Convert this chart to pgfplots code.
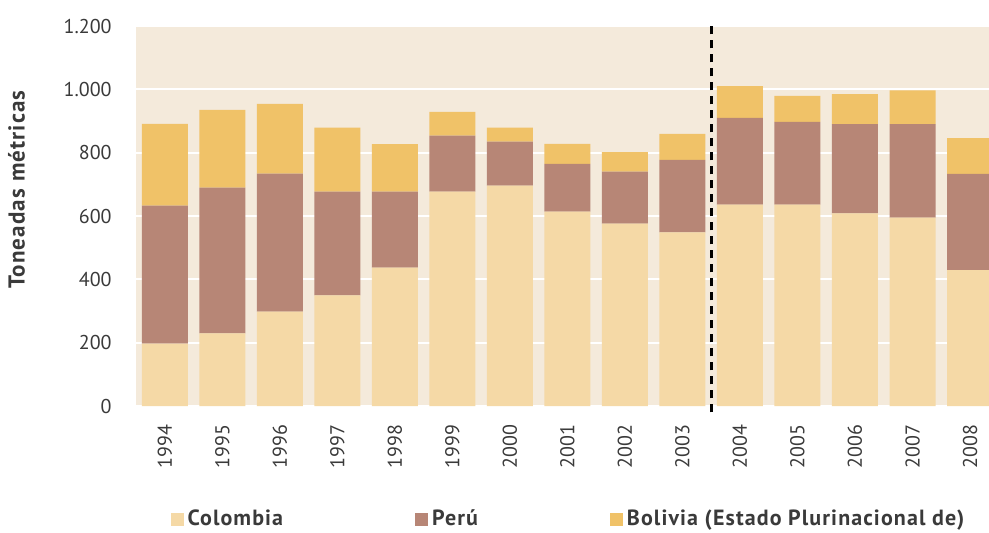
\documentclass[border=0pt]{standalone}
\usepackage{pgfplots}
\pgfplotsset{compat=1.18}
\usepackage{fontspec}
\setmainfont{PT Sans}
\newfontfamily\legfont[LetterSpace=5]{PT Sans}
\definecolor{colo}{HTML}{F5D9A6}
\definecolor{peru}{HTML}{B78676}
\definecolor{boli}{HTML}{F0C268}
\definecolor{bgc}{HTML}{F4EADB}
\definecolor{txt}{HTML}{3A3A3A}
\begin{document}
\begin{tikzpicture}
\begin{axis}[
  ybar stacked,
  width=426.5pt, height=190pt,
  scale only axis,
  bar width=0.8,
  xmin=-0.5, xmax=14.33,
  ymin=0, ymax=1200,
  ytick={0,200,...,1200},
  xtick={0,...,14},
  xticklabels={1994,1995,1996,1997,1998,1999,2000,2001,2002,2003,2004,2005,2006,2007,2008},
  axis line style={draw=none},
  major tick length=0pt,
  axis background/.style={fill=bgc},
  ymajorgrids=true,
  grid style={white, line width=1pt},
  clip=false,
  tick label style={font=\fontsize{10}{12}\selectfont, text=txt},
  /pgf/number format/.cd, 1000 sep={.}, assume math mode=true,
  /pgfplots/.cd,
  yticklabel style={inner sep=0pt, xshift=-12pt},
  xticklabel style={rotate=90, anchor=east, inner sep=0pt, xshift=-9pt},
  ylabel={Toneadas métricas},
  ylabel style={font=\legfont\bfseries\fontsize{11.5}{13}\selectfont, text=txt, at={(axis description cs:-0.14,0.57)}, anchor=center},
  legend columns=3,
  legend style={at={(axis description cs:0.04,-0.298)}, anchor=west, draw=none, fill=none, inner sep=0pt,
    font=\legfont\bfseries\fontsize{11}{13}\selectfont, text=txt,
    /tikz/every even column/.append style={column sep=64pt}},
  legend image code/.code={\fill[#1] (0pt,-3.2pt) rectangle (6.5pt,3.2pt);},
]
\addplot[fill=colo, draw=none] coordinates {(0,197) (1,229) (2,298) (3,349) (4,437) (5,677) (6,696) (7,614) (8,576) (9,548) (10,636) (11,636) (12,608) (13,595) (14,429)};
\addplot[fill=peru, draw=none] coordinates {(0,436) (1,461) (2,436) (3,328) (4,240) (5,177) (6,139) (7,151) (8,164) (9,229) (10,274) (11,261) (12,282) (13,295) (14,304)};
\addplot[fill=boli, draw=none] coordinates {(0,258) (1,245) (2,220) (3,202) (4,150) (5,75) (6,44) (7,63) (8,62) (9,82) (10,100) (11,82) (12,95) (13,107) (14,113)};
\legend{Colombia,Perú,Bolivia (Estado Plurinacional de)}
\draw[black, line width=1.6pt, dash pattern=on 4pt off 3pt] (axis cs:9.5,-20) -- (axis cs:9.5,1200);
\end{axis}
\pgfresetboundingbox
\useasboundingbox ([xshift=-68pt,yshift=-63pt]current axis.south west) rectangle ([yshift=13pt]current axis.north east);
\end{tikzpicture}
\end{document}
